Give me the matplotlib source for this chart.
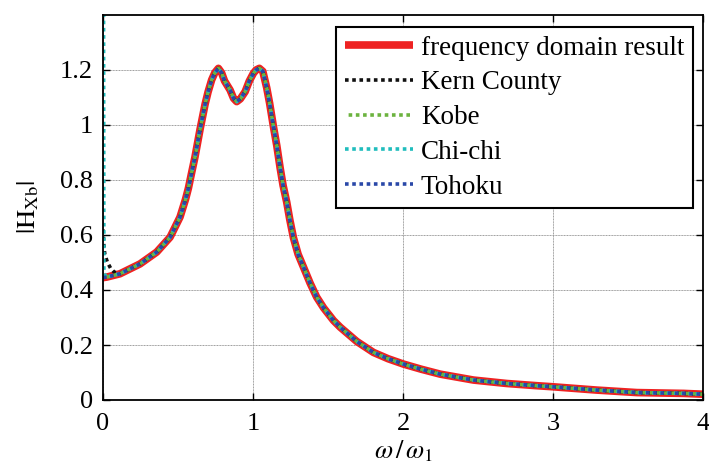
import matplotlib
matplotlib.use("Agg")
import matplotlib.pyplot as plt

# ---- data ----
freq = [0.0, 0.025, 0.113, 0.247, 0.358, 0.447, 0.513, 0.55, 0.569, 0.59,
        0.613, 0.647, 0.68, 0.70, 0.724, 0.745, 0.769, 0.79, 0.81, 0.847,
        0.87, 0.891, 0.915, 0.947, 0.975, 1.002, 1.02, 1.042, 1.065, 1.091,
        1.11, 1.136, 1.158, 1.18, 1.2, 1.224, 1.245, 1.269, 1.3, 1.336,
        1.38, 1.424, 1.47, 1.536, 1.58, 1.691, 1.802, 1.9, 2.0, 2.12,
        2.247, 2.469, 2.691, 2.891, 3.0, 3.291, 3.558, 3.869, 4.0]
h_freq = [0.445, 0.447, 0.459, 0.495, 0.538, 0.592, 0.665, 0.73, 0.77, 0.825,
          0.884, 0.985, 1.075, 1.12, 1.164, 1.19, 1.206, 1.19, 1.16, 1.127,
          1.097, 1.085, 1.095, 1.121, 1.16, 1.188, 1.2, 1.206, 1.195, 1.135,
          1.08, 0.993, 0.925, 0.845, 0.78, 0.72, 0.655, 0.59, 0.53, 0.483,
          0.425, 0.374, 0.335, 0.289, 0.265, 0.213, 0.173, 0.15, 0.131, 0.112,
          0.094, 0.0725, 0.060, 0.052, 0.048, 0.036, 0.027, 0.024, 0.021]

# time-domain records: low-frequency start differs, then they follow the curve
kern_x0 = [0.0, 0.006, 0.012, 0.03, 0.05, 0.075]
kern_y0 = [0.62, 0.56, 0.53, 0.50, 0.48, 0.465]
kobe_x0 = [0.0, 0.025]
kobe_y0 = [0.445, 0.447]
chichi_x0 = [0.0, 0.006, 0.025]
chichi_y0 = [3.0, 0.46, 0.447]
tohoku_x0 = [0.0, 0.025]
tohoku_y0 = [0.445, 0.447]

labels = ["frequency domain result", "Kern County", "Kobe", "Chi-chi", "Tohoku"]
colors = ["#ee2222", "#111111", "#6cb33f", "#20bdbd", "#2a48a8"]

plt.rcParams['font.family'] = ['Liberation Serif', 'DejaVu Serif']
plt.rcParams['mathtext.fontset'] = 'stix'

fig = plt.figure(figsize=(7.09, 4.72), dpi=100)
ax = fig.add_axes([103/709, 1-400/472, (703.3-103)/709, (400-15)/472])

def tail(x0):
    return [f for f in freq if f > x0[-1]]

def tail_h(x0):
    return [h for f, h in zip(freq, h_freq) if f > x0[-1]]

ax.plot(freq, h_freq, color=colors[0], lw=5.5, label=labels[0], zorder=2,
        solid_capstyle='butt', solid_joinstyle='round')
series = [(kern_x0, kern_y0), (kobe_x0, kobe_y0), (chichi_x0, chichi_y0),
          (tohoku_x0, tohoku_y0)]
offsets = [0, 1, 0, 0]
for (x0, y0), lab, col, off in zip(series, labels[1:], colors[1:], offsets):
    xs = list(x0) + tail(x0)
    ys = list(y0) + tail_h(x0)
    ax.plot(xs, ys, color=col, lw=2.6, linestyle=(off, (1, 1)), label=lab,
            zorder=3, dash_capstyle='butt')

ax.set_xlim(0, 4)
ax.set_ylim(0, 1.4)
ax.set_xticks([0, 1, 2, 3, 4])
ax.set_xticklabels(["0", "1", "2", "3", "4"])
ax.set_yticks([0, 0.2, 0.4, 0.6, 0.8, 1.0, 1.2])
ax.set_yticklabels(["0", "0.2", "0.4", "0.6", "0.8", "1", "1.2"])
ax.tick_params(direction='in', length=5, width=1, top=True, right=True,
               labelsize=19, colors='black')
ax.tick_params(axis='x', pad=9)
ax.tick_params(axis='y', pad=7)
ax.grid(True, color='0.6', lw=0.7, linestyle=(0, (1, 0.6)))
ax.set_axisbelow(True)
for sp in ax.spines.values():
    sp.set_linewidth(1.3)
    sp.set_zorder(4)

ax.set_xlabel(r'$\omega\,/\,\omega_1$', fontsize=19, labelpad=3)
ax.set_ylabel(r'$|\mathrm{H}_{\mathrm{Xb}}|$', fontsize=19, labelpad=14)

leg = ax.legend(loc='upper right', bbox_to_anchor=(693/709, 1-27/472),
                bbox_transform=fig.transFigure, fontsize=19.5,
                frameon=True, fancybox=False, framealpha=1, edgecolor='black',
                handlelength=2.5, handletextpad=0.3, labelspacing=0.36,
                borderpad=0.32, borderaxespad=0)
leg.get_frame().set_linewidth(1.5)
leg.set_zorder(5)

fig.savefig("out.png", dpi=100)
